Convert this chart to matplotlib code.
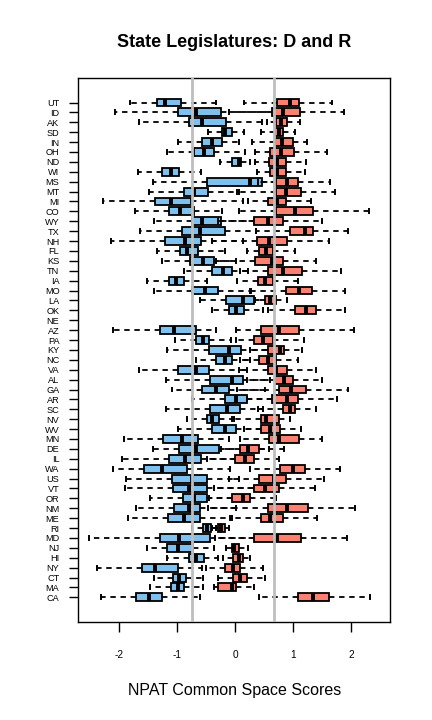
import matplotlib
matplotlib.use('Agg')
import matplotlib.pyplot as plt

plt.rcParams['font.family'] = ['Liberation Sans', 'DejaVu Sans']

states = ['UT', 'ID', 'AK', 'SD', 'IN', 'OH', 'ND', 'WI', 'MS', 'MT', 'MI', 'CO',
          'WY', 'TX', 'NH', 'FL', 'KS', 'TN', 'IA', 'MO', 'LA', 'OK', 'NE', 'AZ',
          'PA', 'KY', 'NC', 'VA', 'AL', 'GA', 'AR', 'SC', 'NV', 'WV', 'MN', 'DE',
          'IL', 'WA', 'US', 'VT', 'OR', 'NM', 'ME', 'RI', 'MD', 'NJ', 'HI', 'NY',
          'CT', 'MA', 'CA']

# (whisker low, q1, median, q3, whisker high) per state, Democrats
dem = [
    (-1.80, -1.34, -1.20, -0.93, -0.32), (-2.06, -0.98, -0.67, -0.24, 0.65),
    (-1.65, -0.80, -0.56, -0.15, 0.47), (-0.46, -0.22, -0.17, -0.06, 0.16),
    (-0.98, -0.56, -0.39, -0.22, 0.06), (-1.17, -0.70, -0.53, -0.36, 0.18),
    (-0.25, -0.05, 0.06, 0.11, 0.25), (-1.67, -1.25, -1.10, -0.96, -0.58),
    (-1.41, -0.49, 0.26, 0.47, 0.88), (-1.48, -0.87, -0.70, -0.46, 0.03),
    (-2.27, -1.37, -1.11, -0.76, 0.14), (-1.72, -1.13, -0.94, -0.70, -0.23),
    (-1.39, -0.74, -0.56, -0.24, 0.33), (-1.63, -0.91, -0.61, -0.17, 0.36),
    (-2.13, -1.20, -0.86, -0.58, 0.13), (-1.34, -0.94, -0.82, -0.63, -0.18),
    (-1.25, -0.77, -0.55, -0.37, 0.01), (-0.87, -0.39, -0.20, -0.06, 0.23),
    (-1.51, -1.13, -1.01, -0.87, -0.49), (-1.39, -0.74, -0.51, -0.30, 0.25),
    (-0.61, -0.15, 0.14, 0.33, 0.55), (-0.39, -0.11, 0.02, 0.16, 0.49),
    None, (-2.10, -1.29, -1.05, -0.68, -0.32),
    (-1.03, -0.68, -0.55, -0.44, -0.07), (-1.17, -0.44, -0.11, 0.11, 0.70),
    (-0.68, -0.32, -0.18, -0.06, 0.25), (-1.65, -0.98, -0.68, -0.44, 0.20),
    (-1.18, -0.43, -0.06, 0.13, 0.60), (-1.08, -0.56, -0.32, -0.10, 0.52),
    (-0.74, -0.17, 0.01, 0.21, 0.75), (-1.18, -0.43, -0.13, 0.09, 0.49),
    (-0.82, -0.49, -0.39, -0.27, -0.05), (-0.98, -0.39, -0.17, 0.01, 0.55),
    (-1.91, -1.24, -0.91, -0.63, -0.10), (-1.41, -0.96, -0.68, -0.27, 0.59),
    (-1.94, -1.13, -0.86, -0.58, 0.18), (-2.10, -1.56, -1.25, -0.82, -0.08),
    (-1.87, -1.08, -0.74, -0.48, 0.07), (-1.89, -1.06, -0.80, -0.48, 0.33),
    (-1.46, -0.89, -0.70, -0.48, 0.00), (-1.70, -1.05, -0.80, -0.60, 0.01),
    (-1.84, -1.15, -0.87, -0.60, -0.08), (-0.74, -0.55, -0.48, -0.41, -0.32),
    (-2.51, -1.30, -0.96, -0.43, 0.60), (-1.51, -1.17, -0.98, -0.72, -0.36),
    (-1.17, -0.80, -0.67, -0.53, -0.29), (-2.37, -1.61, -1.37, -0.99, -0.56),
    (-1.39, -1.06, -0.96, -0.84, -0.55), (-1.46, -1.11, -0.99, -0.87, -0.55),
    (-2.30, -1.70, -1.48, -1.25, -0.61),
]

# Republicans
rep = [
    (0.16, 0.73, 0.94, 1.11, 1.67), (-0.11, 0.63, 0.83, 1.12, 1.87),
    (0.55, 0.71, 0.80, 0.89, 1.12), (0.45, 0.69, 0.75, 0.82, 1.04),
    (0.30, 0.68, 0.81, 0.99, 1.24), (0.35, 0.61, 0.79, 1.02, 1.59),
    (0.35, 0.59, 0.72, 0.87, 1.23), (0.37, 0.61, 0.72, 0.87, 1.20),
    (0.40, 0.71, 0.90, 1.09, 1.64), (0.07, 0.70, 0.87, 1.13, 1.73),
    (0.23, 0.56, 0.73, 0.87, 1.30), (0.07, 0.71, 1.04, 1.35, 2.30),
    (-0.30, 0.33, 0.56, 0.83, 1.49), (0.36, 0.95, 1.20, 1.35, 1.95),
    (-0.40, 0.37, 0.59, 0.90, 1.61), (0.21, 0.42, 0.54, 0.66, 1.04),
    (-0.32, 0.35, 0.64, 0.82, 1.39), (0.09, 0.57, 0.83, 1.16, 1.82),
    (0.04, 0.40, 0.52, 0.66, 1.09), (0.27, 0.87, 1.11, 1.32, 1.89),
    (0.35, 0.52, 0.61, 0.70, 0.90), (0.57, 1.04, 1.23, 1.39, 1.90),
    None, (0.02, 0.45, 0.75, 1.11, 2.04),
    (0.02, 0.33, 0.49, 0.66, 1.18), (0.25, 0.57, 0.77, 0.85, 1.16),
    (0.09, 0.42, 0.56, 0.70, 1.09), (0.07, 0.57, 0.71, 0.90, 1.39),
    (0.20, 0.68, 0.85, 0.99, 1.49), (0.04, 0.75, 0.97, 1.23, 1.94),
    (0.20, 0.63, 0.89, 1.09, 1.75), (0.40, 0.82, 0.95, 1.04, 1.39),
    (-0.01, 0.44, 0.54, 0.75, 0.94), (0.16, 0.45, 0.60, 0.78, 1.13),
    (0.09, 0.59, 0.76, 1.11, 1.49), (-0.24, 0.09, 0.23, 0.42, 0.85),
    (-0.48, 0.00, 0.18, 0.33, 0.75), (0.25, 0.78, 0.99, 1.21, 1.80),
    (-0.11, 0.42, 0.67, 0.87, 1.54), (-0.37, 0.32, 0.52, 0.76, 1.37),
    (-0.45, -0.06, 0.13, 0.26, 0.70), (-0.46, 0.57, 0.90, 1.26, 2.06),
    (-0.06, 0.45, 0.61, 0.83, 1.42), (-0.40, -0.29, -0.24, -0.18, -0.11),
    (-0.34, 0.32, 0.72, 1.13, 1.92), (-0.15, -0.06, -0.01, 0.06, 0.23),
    (-0.20, -0.03, 0.06, 0.13, 0.26), (-0.50, -0.17, -0.03, 0.09, 0.49),
    (-0.30, -0.03, 0.09, 0.20, 0.52), (-0.36, -0.29, -0.06, 0.02, 0.33),
    (0.42, 1.09, 1.35, 1.61, 2.33),
]

# overall party medians
ref_lines = [-0.736, 0.667]
xticks = [-2, -1, 0, 1, 2]

fig = plt.figure(figsize=(4.32, 7.2), dpi=100)
ax = fig.add_axes([0.181, 0.136, 0.722, 0.756])

n = len(states)
pos = [n - i for i in range(n)]


def draw(rows, color):
    stats, where = [], []
    for p, r in zip(pos, rows):
        if r is None:
            continue
        lo, q1, med, q3, hi = r
        stats.append(dict(whislo=lo, q1=q1, med=med, q3=q3, whishi=hi, fliers=[]))
        where.append(p)
    ax.bxp(stats, positions=where, widths=0.8, capwidths=0.4,
           orientation='horizontal', patch_artist=True, showfliers=False,
           boxprops=dict(facecolor=color, edgecolor='black', linewidth=1.3),
           medianprops=dict(color='black', linewidth=2.8, solid_capstyle='butt'),
           whiskerprops=dict(color='black', linewidth=1.3, linestyle=(0, (3, 2.6))),
           capprops=dict(color='black', linewidth=1.4))


draw(dem, '#7ec0ee')
draw(rep, '#fa8072')

for v in ref_lines:
    ax.axvline(v, color='#bebebe', linewidth=2, zorder=5)

ax.set_xlim(-2.70, 2.67)
ax.set_ylim(-1.5, 53.5)
ax.set_yticks(pos)
ax.set_yticklabels(states, family=['Liberation Sans Narrow', 'Liberation Sans'],
                   fontsize=6.6)
ax.set_xticks(xticks)
ax.set_xticklabels([str(t) for t in xticks], fontsize=7.3)
ax.tick_params(axis='x', length=7, width=1, pad=13)
ax.tick_params(axis='y', length=6.5, width=1, pad=7)
for s in ax.spines.values():
    s.set_linewidth(1)

ax.set_xlabel('NPAT Common Space Scores', fontsize=11.5, labelpad=17)
ax.set_title('State Legislatures: D and R', fontsize=13, fontweight='bold', pad=22)

fig.savefig('out.png', dpi=100)
